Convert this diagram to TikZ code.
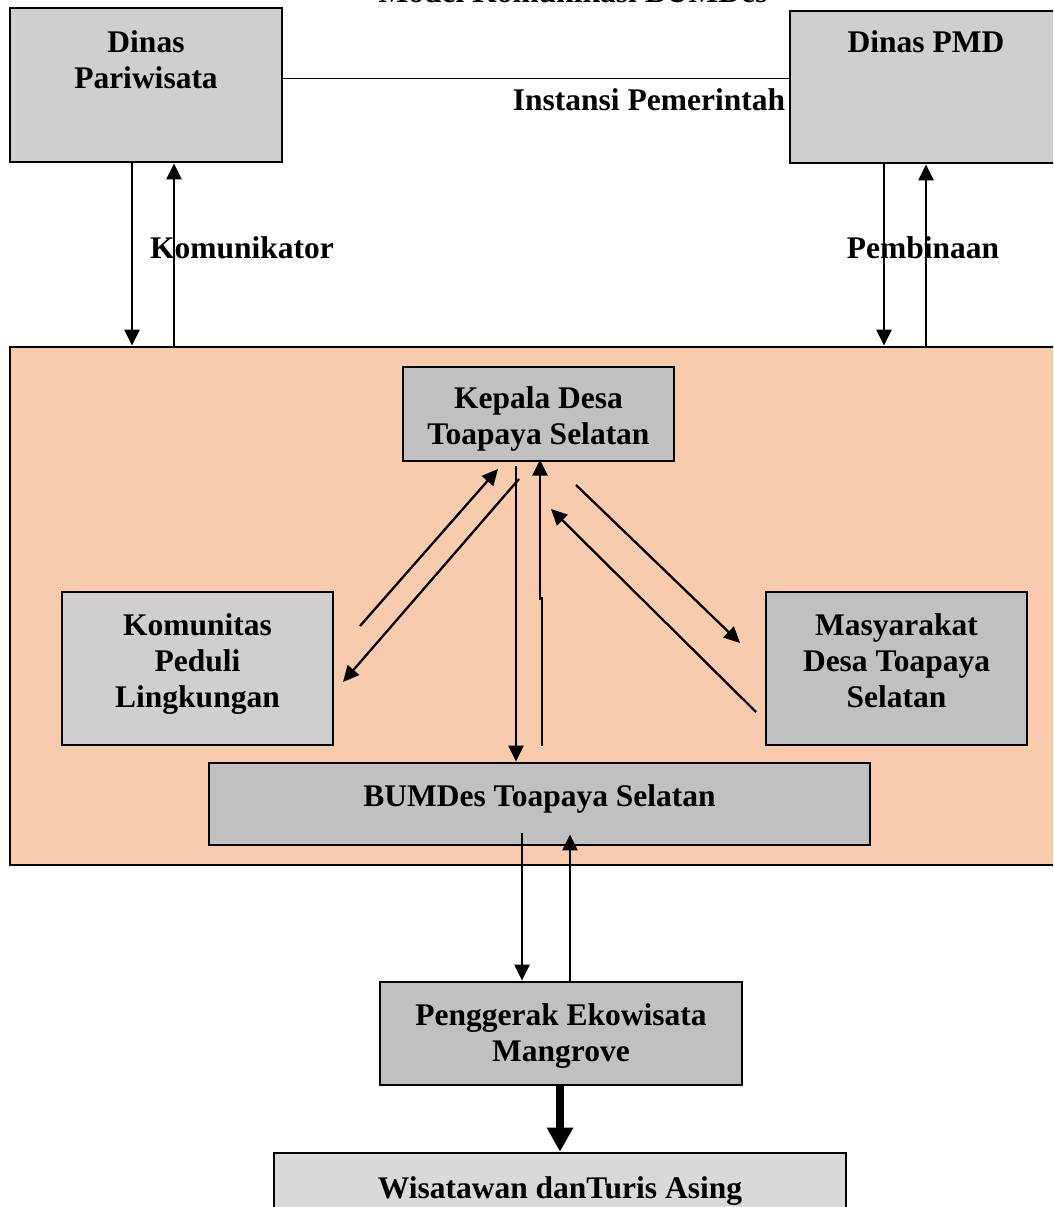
\documentclass[tikz,border=0pt]{standalone}
\usepackage{fontspec}
\setmainfont{Liberation Serif}
\usetikzlibrary{arrows.meta}
\definecolor{peach}{HTML}{F8CBAD}
\definecolor{greyA}{HTML}{D0CECE}
\definecolor{greyB}{HTML}{C0C0C0}
\definecolor{greyC}{HTML}{D9D9D9}
\begin{document}
\begin{tikzpicture}[x=1pt,y=-1pt,
    every node/.style={font=\bfseries\fontsize{31.5}{36}\selectfont, align=center, inner sep=0pt},
    box/.style={draw, line width=2.8pt},
    arr/.style={line width=2.3pt, -{Triangle[length=16pt,width=15pt]}},
    bigarr/.style={line width=8pt, -{Triangle[length=24pt,width=25pt]}}]
\useasboundingbox (0,0) rectangle (1053,1207);
\clip (0,0) rectangle (1053,1207);
% judul (terpotong di atas)
\node[anchor=base] (judul) at (573,3) {Model Komunikasi BUMDes};
% instansi pemerintah
\node[box, fill=greyA, minimum width=272pt, minimum height=154pt] (parw) at (146,85) {};
\node[anchor=north] (parwtxt) at (146,30) {Dinas\\Pariwisata};
\node[box, fill=greyA, minimum width=272pt, minimum height=152pt] (pmd) at (926,87) {};
\node[anchor=north] (pmdtxt) at (926,30) {Dinas PMD};
\coordinate (link) at (0,78);
\draw[line width=1pt] (parw.east |- link) -- (pmd.west |- link);
\node[anchor=base] (instansi) at (649,110) {Instansi Pemerintah};
% wilayah desa
\node[box, fill=peach, minimum width=1052pt, minimum height=518pt] (desa) at (536,606) {};
\node[box, fill=greyB, minimum width=271pt, minimum height=94pt] (kades) at (538.5,414) {};
\node (kadestxt) at ([yshift=-5pt]kades) {Kepala Desa\\Toapaya Selatan};
\node[box, fill=greyA, minimum width=271pt, minimum height=153pt] (kpl) at (197.5,668.5) {};
\node (kpltxt) at ([yshift=4pt]kpl) {Komunitas\\Peduli\\Lingkungan};
\node[box, fill=greyB, minimum width=261pt, minimum height=153pt] (masy) at (896.5,668.5) {};
\node (masytxt) at ([yshift=8pt]masy) {Masyarakat\\Desa Toapaya\\Selatan};
\node[box, fill=greyB, minimum width=661pt, minimum height=82pt] (bumdes) at (539.5,804) {};
\node (bumdestxt) at ([yshift=5pt]bumdes) {BUMDes Toapaya Selatan};
\node[box, fill=greyB, minimum width=362pt, minimum height=103pt] (pengg) at (561,1033.5) {};
\node (penggtxt) at ([yshift=-3pt]pengg) {Penggerak Ekowisata\\Mangrove};
\node[box, fill=greyC, minimum width=572pt, minimum height=68pt] (wis) at (560,1187) {};
\node (wistxt) at ([yshift=-4pt]wis) {Wisatawan danTuris Asing};
% panah ke dinas
\draw[arr] ([xshift=-14pt]parw.south) -- ([xshift=-14pt]parw.south |- desa.north);
\draw[arr] ([xshift=28pt]parw.south |- desa.north) -- ([xshift=28pt]parw.south);
\draw[arr] ([xshift=-42pt]pmd.south) -- ([xshift=-42pt]pmd.south |- desa.north);
\draw[arr] (pmd.south |- desa.north) -- (pmd.south);
\node[anchor=base] (komtor) at (242,258) {Komunikator};
\node[anchor=base] (bina) at (923,258) {Pembinaan};
% panah di dalam desa
\coordinate (kpl1) at (360,626);
\coordinate (kpl2) at (498,469);
\coordinate (kpl3) at (519,479);
\coordinate (kpl4) at (343,682);
\coordinate (masy1) at (756,712);
\coordinate (masy2) at (551,509);
\coordinate (masy3) at (576,485);
\coordinate (masy4) at (740,643);
\draw[arr] (kpl1) -- (kpl2);
\draw[arr] (kpl3) -- (kpl4);
\draw[arr] (masy1) -- (masy2);
\draw[arr] (masy3) -- (masy4);
\draw[arr] ([xshift=-22.5pt,yshift=-4pt]kades.south) -- ([xshift=-22.5pt]kades.south |- bumdes.north);
\draw[arr] ([xshift=2.5pt,yshift=16pt]bumdes.north) -- ++(0,-147) -- ++(-2,0) -- ++(0,-139);
% panah ke penggerak
\draw[arr] ([xshift=-17.5pt,yshift=13pt]bumdes.south) -- ([xshift=-17.5pt]bumdes.south |- pengg.north);
\draw[arr] ([xshift=30.5pt]bumdes.south |- pengg.north) -- ([xshift=30.5pt,yshift=12pt]bumdes.south);
\draw[bigarr] (pengg.south -| wis.north) -- (wis.north);
\end{tikzpicture}
\end{document}
